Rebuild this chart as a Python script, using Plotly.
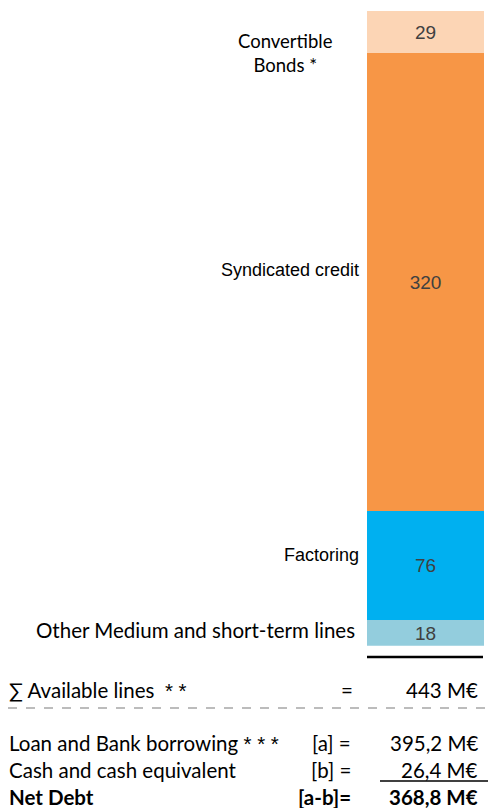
import plotly.graph_objects as go

# ---- data ----
segments = ["Other Medium and short-term lines", "Factoring", "Syndicated credit", "Convertible Bonds *"]
seg_labels = ["Other Medium and short-term lines", "Factoring", "Syndicated credit", "Convertible<br>Bonds *"]
values = [18, 76, 320, 29]
colors = ["#93CDDD", "#00B0F0", "#F79646", "#FCD5B5"]
loan_bank = 395.2
cash = 26.4
net_debt = 368.8

W, H = 489, 808
def px(x): return x / W
def py(y): return 1 - y / H

CAL = "Lato, Carlito, sans-serif"
ARI = "Liberation Sans, Arial, sans-serif"
TABLE_FONT = dict(family=CAL, size=20.5, color="black")
VAL_FONT = dict(family=ARI, size=19, color="#404040")
seg_fonts = [
    dict(family=CAL, size=20.5, color="black"),
    dict(family=ARI, size=18, color="black"),
    dict(family=ARI, size=18, color="black"),
    dict(family=CAL, size=18.5, color="black"),
]

def stars(s):
    # render asterisks in a font with larger, centred asterisk glyphs
    return s.replace("***", '<span style="font-family:Liberation Sans">* * *</span>') \
            .replace("**", '<span style="font-family:Liberation Sans">* *</span>')

fig = go.Figure()
base = 0
for name, v, c in zip(segments, values, colors):
    fig.add_trace(go.Bar(
        x=[0], y=[v], base=[base], name=name, marker=dict(color=c, line=dict(width=0)),
        text=[str(v)], textposition="inside", insidetextanchor="middle",
        textangle=0, constraintext="none", textfont=VAL_FONT, hoverinfo="skip",
        width=1,
    ))
    base += v

total = sum(values)

fig.update_layout(
    width=W, height=H, margin=dict(l=0, r=0, t=0, b=0),
    paper_bgcolor="white", plot_bgcolor="white", showlegend=False,
    barmode="overlay", bargap=0,
    xaxis=dict(domain=[px(367), px(484)], range=[-0.5, 0.5], visible=False, fixedrange=True),
    yaxis=dict(domain=[py(645.7), py(11)], range=[0, total], visible=False, fixedrange=True),
)

# segment labels on the left (data coordinates for y)
cum = 0
shifts = [3, 10, 12, -21]
rights = [357, 361, 361, None]
for i, (lab, v) in enumerate(zip(seg_labels, values)):
    mid = cum + v / 2
    cum += v
    if i == 3:
        fig.add_annotation(x=px(285), xref="paper", y=mid, yref="y", text=lab, showarrow=False,
                           xanchor="center", yanchor="middle", yshift=shifts[i], font=seg_fonts[i],
                           align="center")
    else:
        fig.add_annotation(x=px(rights[i]), xref="paper", y=mid, yref="y", text=lab, showarrow=False,
                           xanchor="right", yanchor="middle", yshift=shifts[i], font=seg_fonts[i])

# line under the bar
fig.add_shape(type="line", xref="paper", yref="paper", x0=px(367), x1=px(483), y0=py(657), y1=py(657),
              line=dict(color="black", width=2.5))
# dashed separator
fig.add_shape(type="line", xref="paper", yref="paper", x0=px(8), x1=px(489), y0=py(708), y1=py(708),
              line=dict(color="#A6A6A6", width=1.5, dash="dash"))
# underline under cash
fig.add_shape(type="line", xref="paper", yref="paper", x0=px(380), x1=px(488), y0=py(781), y1=py(781),
              line=dict(color="black", width=1.5))

def fmt(v):
    return f"{v:.1f}".replace(".", ",") + " M€"

rows = [
    (690, "∑ Available lines  **", "=", f"{total} M€", False),
    (743, "Loan and Bank borrowing ***", "[a] =", fmt(loan_bank), False),
    (770, "Cash and cash equivalent", "[b] =", fmt(cash), False),
    (797, "Net Debt", "[a-b]=", fmt(net_debt), True),
]
for y, lab, mid, val, bold in rows:
    f = dict(TABLE_FONT)
    lab = stars(lab)
    if bold:
        lab, mid, val = f"<b>{lab}</b>", f"<b>{mid}</b>", f"<b>{val}</b>"
    fig.add_annotation(x=px(7), y=py(y), xref="paper", yref="paper", text=lab, showarrow=False,
                       xanchor="left", yanchor="middle", font=f)
    if mid == "=":
        fig.add_annotation(x=px(347), y=py(y), xref="paper", yref="paper", text=mid, showarrow=False,
                           xanchor="center", yanchor="middle", font=f)
    else:
        fig.add_annotation(x=px(353), y=py(y), xref="paper", yref="paper", text=mid, showarrow=False,
                           xanchor="right", yanchor="middle", font=f)
    fig.add_annotation(x=px(480), y=py(y), xref="paper", yref="paper", text=val, showarrow=False,
                       xanchor="right", yanchor="middle", font=f)

fig.write_html("out.html", config={"displayModeBar": False})
